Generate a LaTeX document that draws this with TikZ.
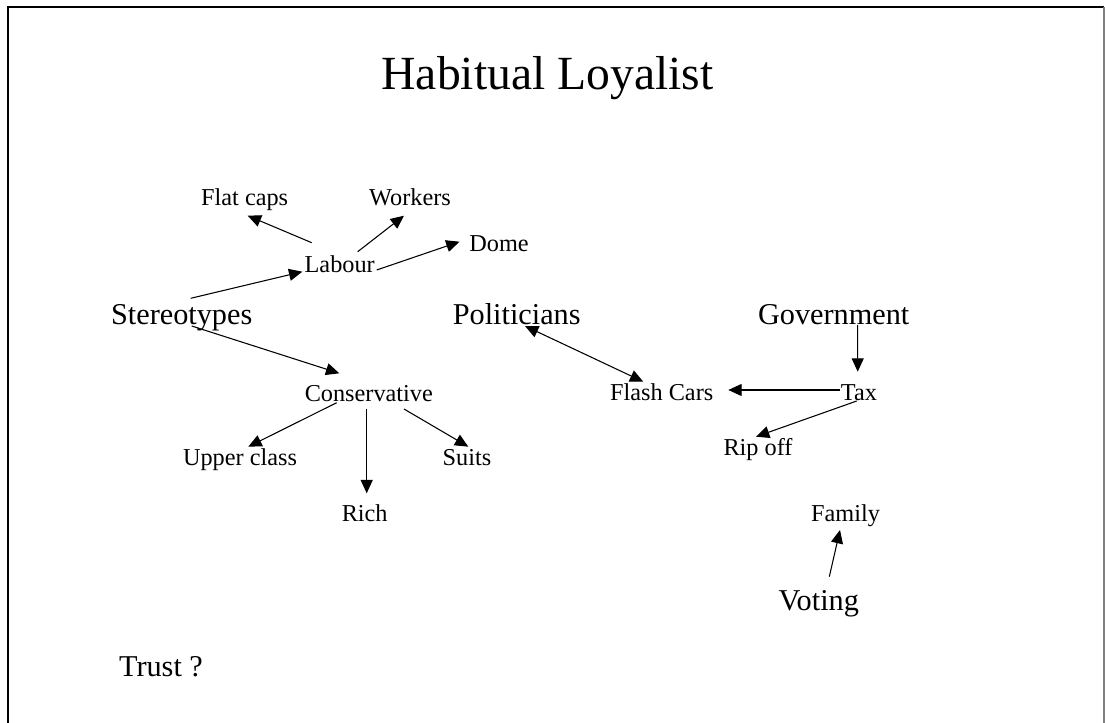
\documentclass[tikz,border=0pt]{standalone}
\usepackage{fontspec}
\setmainfont{Liberation Serif}
\usetikzlibrary{arrows.meta}
\tikzset{
  lbl/.style={inner sep=0pt, anchor=base},
  titlefont/.style={lbl, font=\fontsize{35.7}{40}\selectfont},
  bigfont/.style={lbl, font=\fontsize{22.7}{26}\selectfont},
  smallfont/.style={lbl, font=\fontsize{18.2}{21}\selectfont},
  arr/.style={line width=0.8pt, -{Triangle[length=10pt,width=9pt]}},
  darr/.style={line width=0.8pt, {Triangle[length=10pt,width=9pt]}-{Triangle[length=10pt,width=9pt]}},
}
\begin{document}
\begin{tikzpicture}[x=0.75pt, y=-0.75pt]
\useasboundingbox (0,0) rectangle (1105,723);
% frame
\draw[line width=1.6pt] (8,723) -- (8,7) -- (1104,7);
\draw[gray, line width=1pt] (1104,7) -- (1104,723);

\node[titlefont] (title) at (547.5,90) {Habitual Loyalist};

\node[smallfont] (flatcaps) at (244.7,205.7) {Flat caps};
\node[smallfont] (workers) at (410,205.7) {Workers};
\node[smallfont] (dome) at (499,251.7) {Dome};
\node[smallfont] (labour) at (339.7,272.7) {Labour};

\node[bigfont] (stereo) at (181.7,324.3) {Stereotypes};
\node[bigfont] (politicians) at (516.7,324.3) {Politicians};
\node[bigfont] (government) at (833.7,324.3) {Government};

\node[smallfont] (conservative) at (368.8,401.7) {Conservative};
\node[smallfont] (flash) at (661.7,400.7) {Flash Cars};
\node[smallfont] (tax) at (859,400.7) {Tax};
\node[smallfont] (upper) at (240,465) {Upper class};
\node[smallfont] (suits) at (467,465) {Suits};
\node[smallfont] (ripoff) at (758,455) {Rip off};
\node[smallfont] (rich) at (364.7,521.7) {Rich};
\node[smallfont] (family) at (845.5,521) {Family};
\node[bigfont] (voting) at (818.8,610) {Voting};
\node[bigfont] (trust) at (161,676.7) {Trust ?};

% Labour arrows
\draw[arr] ([shift={(-28,-30)}]labour.base) -- ([shift={(3,10)}]flatcaps.base);
\draw[arr] ([shift={(18,-21)}]labour.base) -- ([shift={(-6,10)}]workers.base);
\draw[arr] ([shift={(37,-2.7)}]labour.base) -- ([shift={(-39.5,-10)}]dome.base);
% Stereotypes arrows
\draw[arr] ([shift={(9,-26)}]stereo.base) -- ([shift={(-37.4,-1)}]labour.base);
\draw[arr] ([shift={(10,1.7)}]stereo.base) -- ([shift={(-29.5,-28.4)}]conservative.base);
% Conservative arrows
\draw[arr] ([shift={(-32.1,1)}]conservative.base) -- ([shift={(8.3,-18.3)}]upper.base);
\draw[arr] ([shift={(-2.1,7.3)}]conservative.base) -- ([shift={(2,-28.4)}]rich.base);
\draw[arr] ([shift={(35.2,7.3)}]conservative.base) -- ([shift={(1.3,-18.3)}]suits.base);
% Politicians <-> Flash Cars
\draw[darr] ([shift={(8.3,1.7)}]politicians.base) -- ([shift={(-18.4,-19)}]flash.base);
% Government -> Tax
\draw[arr] ([shift={(24,0.7)}]government.base) -- ([shift={(-1.3,-29)}]tax.base);
% Tax arrows
\draw[arr] ([shift={(-19,-10.7)}]tax.base) -- ([shift={(66.6,-10.7)}]flash.base);
\draw[arr] ([shift={(-2.3,0.3)}]tax.base) -- ([shift={(-2,-18.3)}]ripoff.base);
% Voting -> Family
\draw[arr] ([shift={(10.5,-33.3)}]voting.base) -- ([shift={(-5.5,9)}]family.base);
\end{tikzpicture}
\end{document}
